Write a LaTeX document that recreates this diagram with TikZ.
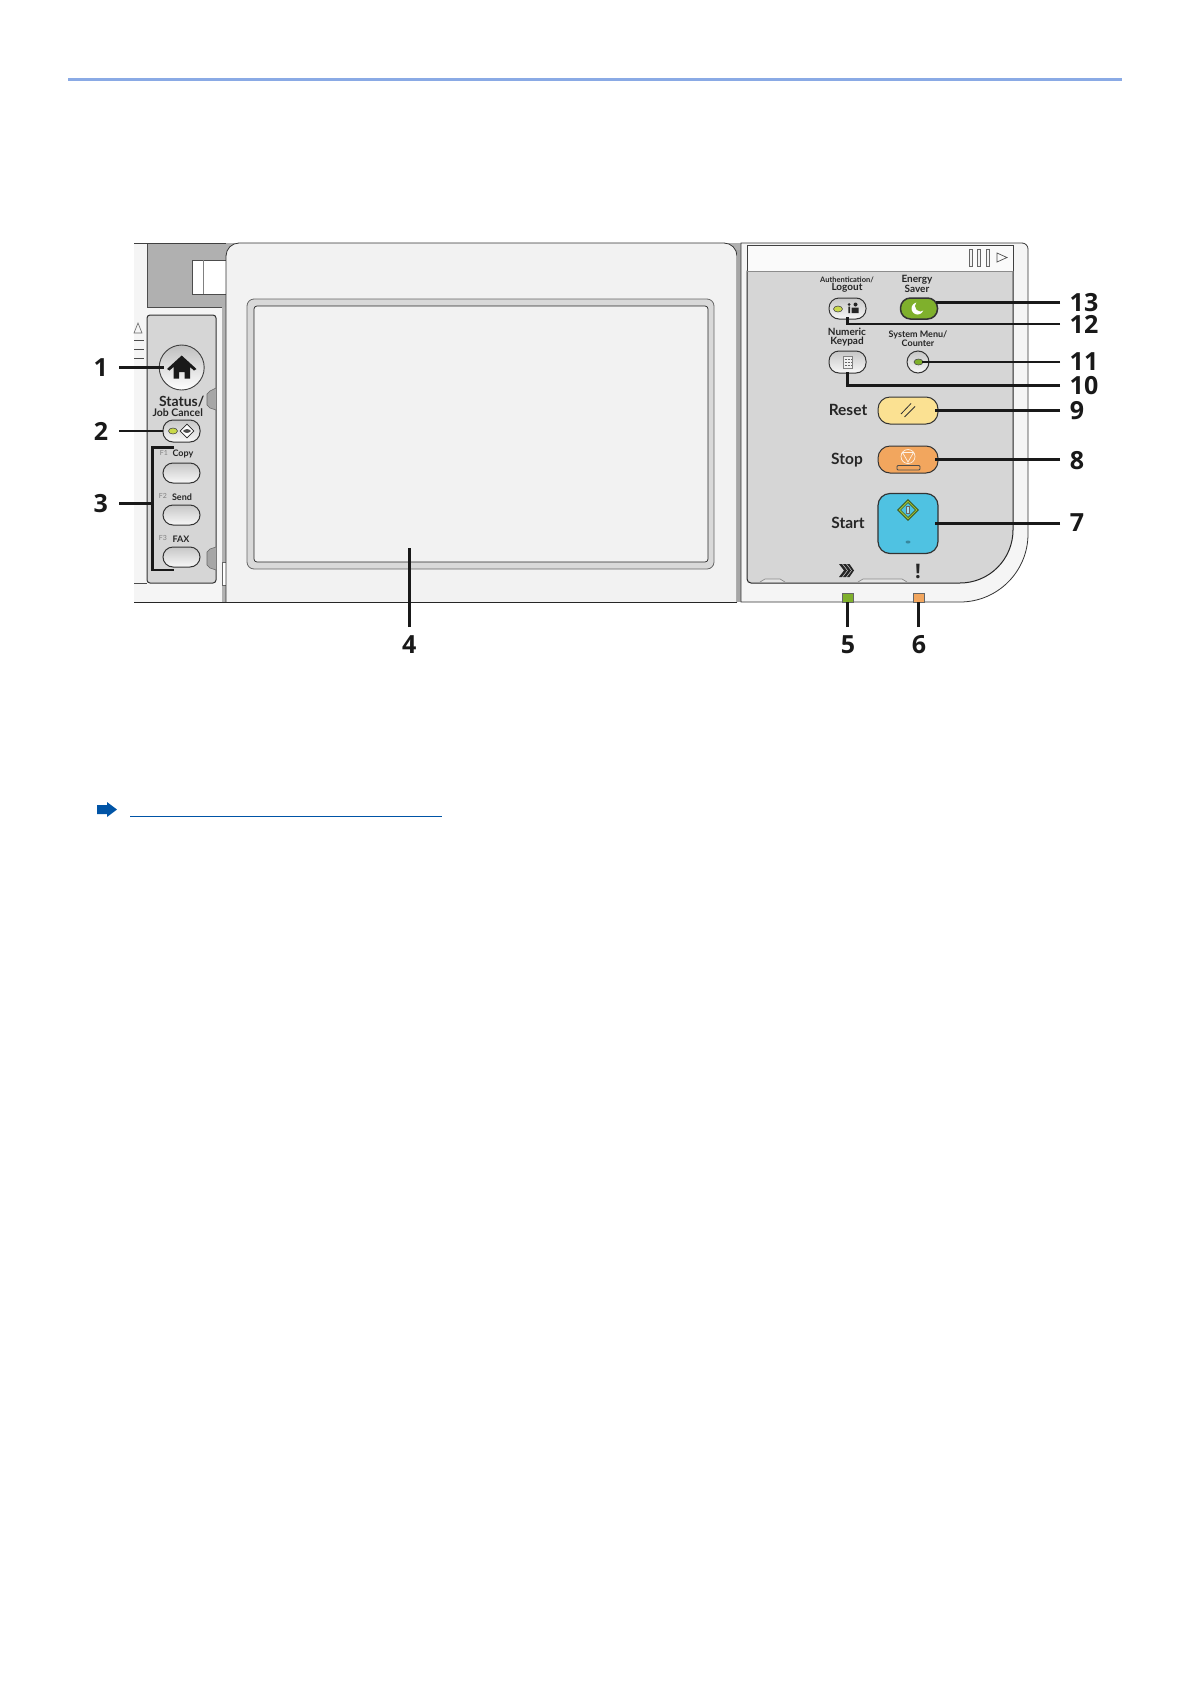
\documentclass[tikz,border=0pt]{standalone}
\usepackage{fontspec}
\usetikzlibrary{positioning, calc, shapes.geometric}
\newfontfamily\panelfont{Lato}
\newfontfamily\numfont{Open Sans}
\definecolor{topblue}{HTML}{8AAAE5}
\definecolor{linkblue}{HTML}{0054A6}
\definecolor{bezelgrey}{HTML}{F2F2F2}
\definecolor{panelgrey}{HTML}{D6D6D6}
\definecolor{darkgrey}{HTML}{B0B0B0}
\definecolor{ledgreen}{HTML}{7FB02C}
\definecolor{ledyellow}{HTML}{C9D94A}
\definecolor{resetyellow}{HTML}{FBE192}
\definecolor{stoporange}{HTML}{F2A65E}
\definecolor{startblue}{HTML}{4FC2E2}
\tikzset{
  paneltext/.style={font=\panelfont\bfseries\fontsize{#1}{#1}\selectfont, text=black!85, inner sep=0pt, outer sep=0pt},
  fkey/.style={font=\panelfont\fontsize{7}{7}\selectfont, text=black!50, inner sep=0pt},
  callnum/.style={font=\numfont\bfseries\fontsize{25}{25}\selectfont, text=black!90, inner sep=0pt},
  callout/.style={draw=black!90, line width=2.7pt},
  pillbtn/.style={draw=black!80, line width=1pt, rounded corners=10pt, top color=black!22, bottom color=black!3,
    minimum width=37pt, minimum height=21pt, inner sep=0pt, outer sep=0pt},
  colbtn/.style={draw=black!80, line width=1pt, fill=#1, rounded corners=12pt,
    minimum width=60pt, minimum height=27pt, inner sep=0pt, outer sep=0pt},
  lamp/.style={ellipse, draw=black!70, line width=0.6pt, fill=ledyellow, minimum width=9pt, minimum height=6pt, inner sep=0pt},
  indicator/.style={draw=black!60, line width=0.4pt, fill=#1, minimum width=10.5pt, minimum height=9pt, inner sep=0pt, outer sep=0pt},
}
\begin{document}
\begin{tikzpicture}[x=1pt, y=-1pt]
  \useasboundingbox (0,0) rectangle (1190,1684);

  %HEADER AND LINK
  \fill[topblue] (68,78) rectangle (1122,81);
  \fill[linkblue] (97,805) -- (107,805) -- (107,802) -- (117,809.5) -- (107,817) -- (107,814) -- (97,814) -- cycle;
  \draw[linkblue, line width=0.9pt] (130,816) -- (442,816);

  %LEFT HOUSING
  \fill[black!4] (134,243) rectangle (226,602);
  \fill[darkgrey] (147,243) rectangle (240,307);
  \draw[black!70, line width=0.7pt] (147,243) -- (147,307) -- (222,307) -- (222,602);
  \draw[black!75, line width=0.8pt] (134,243) -- (226,243);
  \draw[black!85, line width=0.8pt] (134,602) -- (226,602);
  \fill[black!30] (222,307) rectangle (226,602);
  \draw[black!70, line width=0.5pt, fill=white] (192,260) rectangle (226,294);
  \draw[black!50, line width=0.5pt] (203,260) -- (203,294);
  \draw[black!60, line width=0.6pt] (134,333) -- (138,323) -- (142,333) -- cycle;
  \draw[black!70, line width=0.6pt] (134,340) -- (144,340) (134,349) -- (144,349) (134,358) -- (144,358);
  \draw[black!70, line width=0.7pt] (134,583) -- (147,583);

  %LEFT PANEL
  \draw[black!80, line width=1pt, fill=panelgrey, rounded corners=3pt] (147,315) rectangle (216,583);
  \draw[black!60, line width=0.6pt, fill=black!35] (216,388) -- (210,391) -- (207,394) -- (207,405) -- (210,408) -- (216,410);
  \draw[black!60, line width=0.6pt, fill=black!35] (216,547) -- (210,549) -- (207,552) -- (207,565) -- (210,568) -- (216,570);
  \draw[black!60, line width=0.5pt, fill=white] (222,562) rectangle (226,585);

  %BEZEL AND SCREEN
  \fill[darkgrey] (725,243) rectangle (741,262);
  \draw[black!80, line width=0.8pt, fill=bezelgrey, rounded corners=13pt] (226,602) -- (226,243) -- (737,243) -- (737,602);
  \draw[black!85, line width=0.8pt] (226,602) -- (737,602);
  \node[draw=black!60, line width=0.8pt, fill=black!15, rounded corners=7pt, minimum width=467pt, minimum height=270pt, inner sep=0pt, outer sep=0pt] (bezel) at (480.5,434) {};
  \node[draw=black!85, line width=0.7pt, fill=bezelgrey, rounded corners=3pt, minimum width=454pt, minimum height=256pt, inner sep=0pt, outer sep=0pt] (screen) at (481,434) {};

  %RIGHT HOUSING
  \fill[black!35] (737,250) rectangle (741,602);
  \draw[black!80, line width=0.8pt, fill=black!4] (741,602) -- (741,243) [rounded corners=6pt] -- (1028,243) [rounded corners=68pt] -- (1028,602) [sharp corners] -- (741,602) -- cycle;
  \draw[black!85, line width=1pt, fill=panelgrey] (747,271) -- (1013,271) [rounded corners=53pt] -- (1013,583) [rounded corners=4pt] -- (747,583) [sharp corners] -- cycle;
  \draw[black!75, line width=0.8pt, fill=black!2] (747,271) -- (747,245) -- (1013,245) -- (1013,271);
  \draw[black!45, line width=0.9pt] (747,271) -- (1013,271);
  \draw[black!60, line width=0.7pt, fill=black!5] (969.5,249) rectangle (972,266) (977.5,249) rectangle (980,266) (986.5,249) rectangle (989,266);
  \draw[black!70, line width=0.7pt] (997,253) -- (1007,257.5) -- (997,262) -- cycle;
  \draw[black!45, line width=0.7pt, fill=black!10] (760,582) -- (765,579) -- (780,579) -- (785,582);
  \draw[black!45, line width=0.7pt, fill=black!10] (858,582) -- (863,579) -- (902,579) -- (907,582);

  %LEFT BUTTONS
  \node[circle, draw=black!75, line width=0.9pt, top color=black!25, bottom color=white, minimum size=45pt, inner sep=0pt, outer sep=0pt] (btnHome) at (181.7,367.5) {};
  \fill[black!90] (181.7,355.5) -- (196.5,369) -- (194,370.5) -- (190,367) -- (190,378.5) -- (184.5,378.5) -- (184.5,372) -- (179,372) -- (179,378.5) -- (173.5,378.5) -- (173.5,367) -- (169.5,370.5) -- (167,369) -- cycle;
  \node[paneltext=14] (lblStatus) at (181.7,402) {Status/};
  \node[paneltext=10.5] (lblCancel) at (177.7,412.5) {Job Cancel};
  \node[pillbtn, minimum height=22pt] (btnStatus) at (181.5,431) {};
  \node[lamp] (ledStatus) at (173,431) {};
  \node[diamond, draw=black!85, line width=0.7pt, fill=white, minimum size=14pt, inner sep=0pt] (icoStatus) at (187,431) {};
  \fill[black!70] (183,431) .. controls (185,428.5) and (189,428.5) .. (191,431) .. controls (189,433.5) and (185,433.5) .. (183,431) -- cycle;
  \node[fkey] (lblFa) at (164,453) {F1};
  \node[paneltext=9] (lblCopy) at (183,454) {Copy};
  \node[pillbtn, minimum height=20pt] (btnCopy) at (181.5,473) {};
  \node[fkey] (lblFb) at (163,496) {F2};
  \node[paneltext=9] (lblSend) at (182,497) {Send};
  \node[pillbtn, minimum height=20pt] (btnSend) at (181.5,515) {};
  \node[fkey] (lblFc) at (163,538) {F3};
  \node[paneltext=9] (lblFax) at (181,539) {FAX};
  \node[pillbtn, minimum height=20pt] (btnFax) at (181.5,557) {};

  %RIGHT BUTTONS
  \node[paneltext=7.5] (lblAuth) at (847,279.5) {Authentication/};
  \node[paneltext=10] (lblLogout) at (847,288) {Logout};
  \node[paneltext=10] (lblEnergy) at (917,279.5) {Energy};
  \node[paneltext=10] (lblSaver) at (917,288.5) {Saver};
  \node[pillbtn] (btnLogout) at (847.5,308.5) {};
  \node[lamp] (ledLogout) at (838,309) {};
  \fill[black!85] (849,304.5) circle (1.5pt) (855.5,304.5) circle (2pt) (848.3,306.5) rectangle (850,313) (851.5,307.5) rectangle (858.5,313);
  \node[pillbtn, top color=ledgreen, bottom color=ledgreen, line width=1.5pt] (btnEnergy) at (919,308.5) {};
  \fill[white] (917.5,308.5) circle (6pt);
  \fill[ledgreen] (920.5,306) circle (5.5pt);
  \node[paneltext=10] (lblNumeric) at (847,332) {Numeric};
  \node[paneltext=10] (lblKeypad) at (847,342) {Keypad};
  \node[paneltext=9] (lblSystem) at (918,334.5) {System Menu/};
  \node[paneltext=9] (lblCounter) at (918,343) {Counter};
  \node[pillbtn, minimum height=22pt] (btnKeypad) at (847.5,362) {};
  \draw[black!50, line width=0.5pt, fill=black!5] (843,356.5) rectangle (852,368);
  \draw[black!60, line width=0.6pt, densely dotted] (844.5,359) -- (851,359) (844.5,362) -- (851,362) (844.5,365) -- (851,365);
  \node[circle, draw=black!80, line width=1pt, top color=black!22, bottom color=black!3, minimum size=22pt, inner sep=0pt, outer sep=0pt] (btnSystem) at (918,362) {};
  \node[lamp, fill=ledgreen] (ledSystem) at (918.5,362) {};
  \node[paneltext=15.5] (lblReset) at (848,410) {Reset};
  \node[colbtn=resetyellow] (btnReset) at (908,410.5) {};
  \draw[black!80, line width=0.8pt] (901,414) -- (911,403.5) (904.5,417) -- (915,406.5);
  \node[paneltext=15.5] (lblStop) at (847,460) {Stop};
  \node[colbtn=stoporange] (btnStop) at (908,459.5) {};
  \draw[white!85!stoporange, line width=0.7pt] (908,456.5) circle (7pt) (902.5,452.5) -- (913.5,452.5) -- (908,462) -- cycle;
  \draw[black!70, line width=0.8pt, rounded corners=1pt] (897,465.5) rectangle (920,470);
  \node[paneltext=15.5] (lblStart) at (848,523) {Start};
  \node[draw=black!80, line width=1.2pt, fill=startblue, rounded corners=12pt, minimum size=60pt, inner sep=0pt, outer sep=0pt] (btnStart) at (908,523.5) {};
  \node[diamond, draw=black!60!ledgreen, line width=0.7pt, fill=ledgreen!70!ledyellow, minimum size=21pt, inner sep=0pt] (icoStart) at (908,510) {};
  \node[diamond, draw=black!60!ledgreen, line width=0.5pt, fill=startblue, minimum size=15pt, inner sep=0pt] (icoStartb) at (908,510) {};
  \draw[black!60, line width=0.5pt, fill=white!50!startblue] (906.5,506.5) rectangle (909.5,513.5);
  \fill[startblue!70!black] (908,542) ellipse (2.5pt and 1.5pt);

  %INDICATORS
  \fill[black!85] (839,564) -- (844,570.5) -- (839,577) -- (842,577) -- (847,570.5) -- (842,564) -- cycle;
  \fill[black!85] (843,564) -- (848,570.5) -- (843,577) -- (846,577) -- (851,570.5) -- (846,564) -- cycle;
  \fill[black!85] (847,564) -- (852,570.5) -- (847,577) -- (849.5,577) -- (854,570.5) -- (849.5,564) -- cycle;
  \node[font=\numfont\bfseries\fontsize{20}{20}\selectfont, text=black!85, inner sep=0pt] (lblAlert) at (918,571.5) {!};
  \node[indicator=ledgreen] (ledProc) at (847.5,597.5) {};
  \node[indicator=stoporange] (ledAlert) at (918.5,597.5) {};

  %NUMBERS
  \node[callnum] (n1) at (100.7,367.5) {1};
  \node[callnum] (n2) at (101,431) {2};
  \node[callnum] (n3) at (100.7,503.5) {3};
  \node[callnum] (n4) at (409.3,645) {4};
  \node[callnum] (n5) at (848,645) {5};
  \node[callnum] (n6) at (919,645) {6};
  \node[callnum] (n7) at (1077,523) {7};
  \node[callnum] (n8) at (1077,460.5) {8};
  \node[callnum] (n9) at (1077,410.5) {9};
  \node[callnum] (n10) at (1084,385.5) {10};
  \node[callnum] (n11) at (1084,362) {11};
  \node[callnum] (n12) at (1084,324) {12};
  \node[callnum] (n13) at (1084,302.5) {13};

  %CONNECTORS
  \coordinate (tLeft) at (119,0);
  \coordinate (tRight) at (1060,0);
  \coordinate (tLow) at (0,627);
  \draw[callout] (tLeft |- btnHome) -- ([xshift=5pt]btnHome.west);
  \draw[callout] (tLeft |- btnStatus) -- (btnStatus.west);
  \draw[callout] (tLeft |- n3) -- (152.7,503.5);
  \draw[callout] (btnCopy.west |- 0,447.3) ++(11,0) -| (152.7,570) -- ++(21.3,0);
  \draw[callout] (tLow -| n4) -- ([yshift=21pt]bezel.south -| n4);
  \draw[callout] (tLow -| ledProc) -- (ledProc.south);
  \draw[callout] (tLow -| ledAlert) -- (ledAlert.south);
  \draw[callout] (tRight |- btnStart) -- ([xshift=-3pt]btnStart.east);
  \draw[callout] (tRight |- btnStop) -- ([xshift=-3pt]btnStop.east);
  \draw[callout] (tRight |- btnReset) -- ([xshift=-3pt]btnReset.east);
  \draw[callout] (tRight |- n10) -| ([yshift=1pt]btnKeypad.south);
  \draw[callout] (tRight |- btnSystem) -- ([xshift=4pt]btnSystem.center);
  \draw[callout] (tRight |- n12) -| ([yshift=2pt]btnLogout.south);
  \draw[callout] (tRight |- 0,302.7) -- ([xshift=-2pt]btnEnergy.east |- 0,302.7);
\end{tikzpicture}
\end{document}
